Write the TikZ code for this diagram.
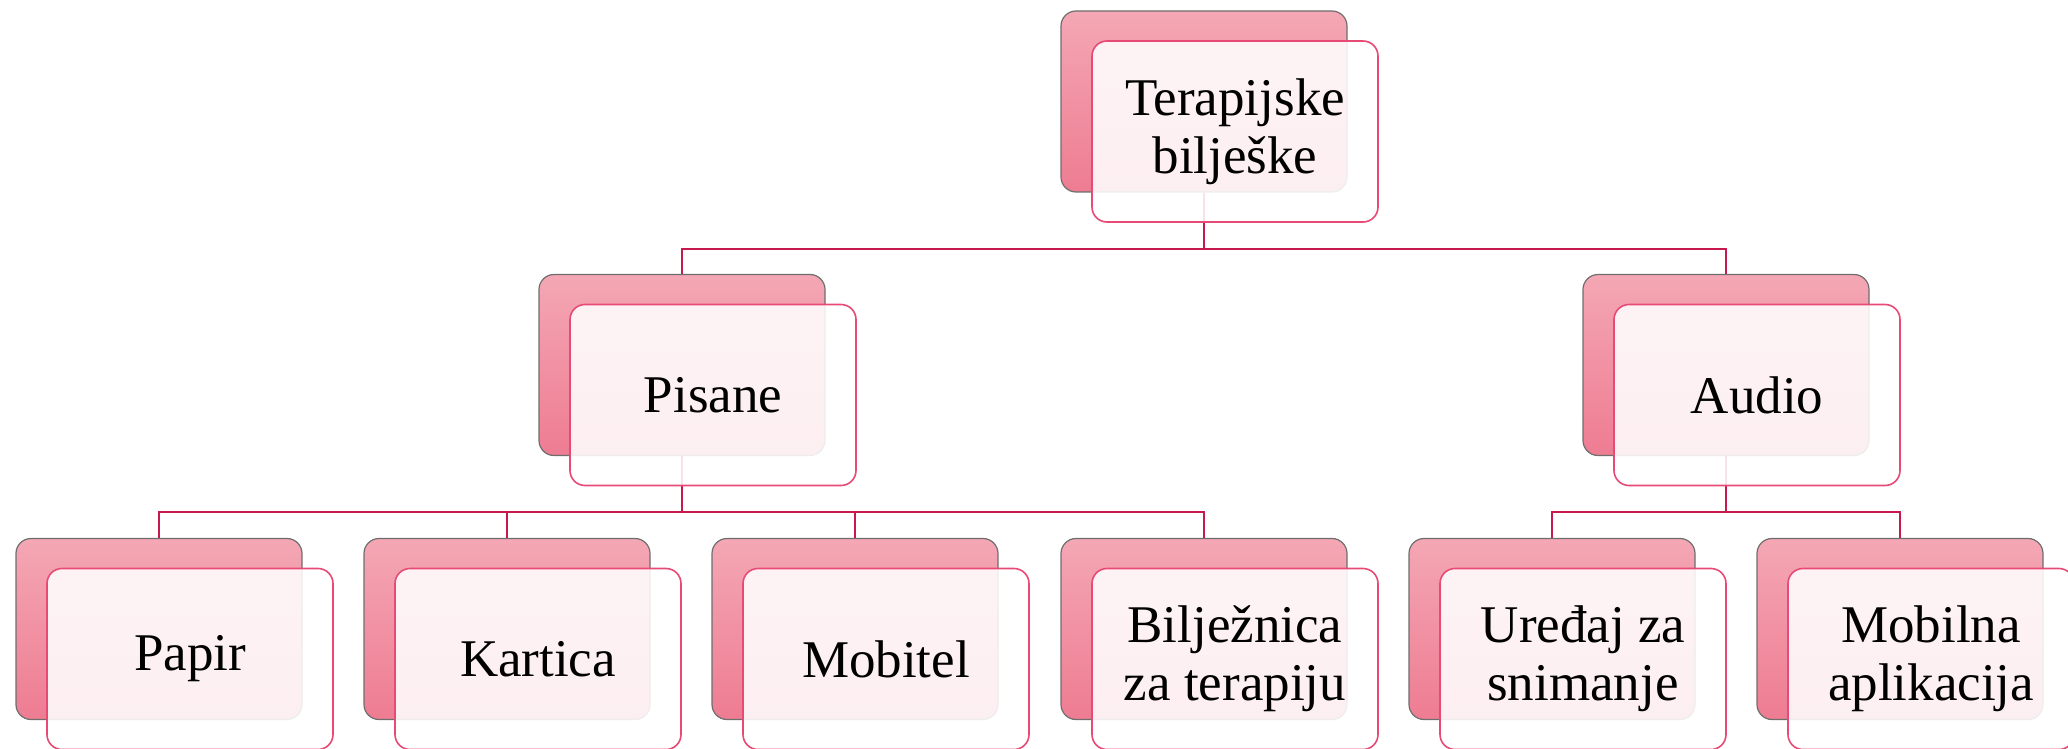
\documentclass[tikz,border=0pt]{standalone}
\usepackage{fontspec}
\setmainfont{Liberation Serif}
\usetikzlibrary{backgrounds,calc}
\definecolor{backtop}{HTML}{F4A7B4}
\definecolor{backbot}{HTML}{EE7C92}
\definecolor{backline}{HTML}{6E6E6E}
\definecolor{frontline}{HTML}{E84A76}
\definecolor{connline}{HTML}{C8194E}
\tikzset{
  backbox/.style={rectangle, rounded corners=7.5pt, draw=backline, line width=0.6pt,
    top color=backtop, bottom color=backbot, minimum width=143pt, minimum height=90.5pt, inner sep=0pt},
  frontbox/.style={rectangle, rounded corners=7.5pt, draw=frontline, line width=0.8pt,
    fill=white, fill opacity=0.88, text opacity=1, draw opacity=1,
    minimum width=143pt, minimum height=90.5pt, inner sep=0pt, align=center,
    font=\fontsize{26.5pt}{29pt}\selectfont},
  conn/.style={draw=connline, line width=1.1pt}
}
\begin{document}
\begin{tikzpicture}[x=0.5pt,y=-0.5pt]
\useasboundingbox (0,0) rectangle (2068,749);
% back boxes
\node[backbox] (tb) at (1204,101.5) {};
\node[backbox] (pb) at (682,365) {};
\node[backbox] (ab) at (1726,365) {};
\node[backbox] (b1) at (159,629) {};
\node[backbox] (b2) at (507,629) {};
\node[backbox] (b3) at (855,629) {};
\node[backbox] (b4) at (1204,629) {};
\node[backbox] (b5) at (1552,629) {};
\node[backbox] (b6) at (1900,629) {};
% front boxes
\node[frontbox] (tf) at ($(tb)+(31,30)$) {Terapijske\\bilješke};
\node[frontbox] (pf) at ($(pb)+(31,30)$) {Pisane};
\node[frontbox] (af) at ($(ab)+(31,30)$) {Audio};
\node[frontbox] (f1) at ($(b1)+(31,30)$) {Papir};
\node[frontbox] (f2) at ($(b2)+(31,30)$) {Kartica};
\node[frontbox] (f3) at ($(b3)+(31,30)$) {Mobitel};
\node[frontbox] (f4) at ($(b4)+(31,30)$) {Bilježnica\\za terapiju};
\node[frontbox] (f5) at ($(b5)+(31,30)$) {Uređaj za\\snimanje};
\node[frontbox] (f6) at ($(b6)+(31,30)$) {Mobilna\\aplikacija};
% connectors
\begin{scope}[on background layer]
\draw[conn] (tb.south) -- ++(0,56) -| (pb.north);
\draw[conn] (tb.south) -- ++(0,56) -| (ab.north);
\foreach \c in {b1,b2,b3,b4}{\draw[conn] (pb.south) -- ++(0,56) -| (\c.north);}
\foreach \c in {b5,b6}{\draw[conn] (ab.south) -- ++(0,56) -| (\c.north);}
\end{scope}
\end{tikzpicture}
\end{document}
